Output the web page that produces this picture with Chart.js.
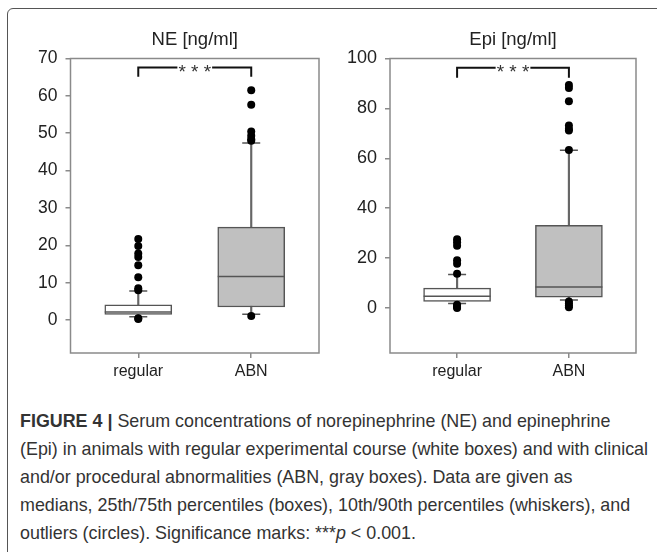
<!DOCTYPE html>
<html>
<head>
<meta charset="utf-8">
<script src="https://cdn.jsdelivr.net/npm/chart.js@4.4.0/dist/chart.umd.min.js"></script>
<style>
    body { margin: 0; background: #fff; }
    #wrap { position: relative; width: 657px; height: 552px; overflow: hidden; }
    #frame {
        position: absolute; left: 7px; top: 8px; width: 720px; height: 620px;
        border: 1.5px solid #555; border-radius: 6px; box-sizing: border-box;
    }
    canvas { position: absolute; top: 0; }
    #neChart { left: 0; }
    #epiChart { left: 320px; }
    #caption {
        position: absolute; left: 20px; top: 407px;
        font-family: "Liberation Sans", Arial, sans-serif;
        font-size: 19px; line-height: 28px; color: #333; white-space: nowrap;
        transform-origin: 0 0;
    }
    #caption div { display: block; }
    #caption span { display: inline-block; }
</style>
</head>
<body>
<div id="wrap">
    <div id="frame"></div>
    <canvas id="neChart" width="330" height="390"></canvas>
    <canvas id="epiChart" width="330" height="390"></canvas>
    <div id="caption">
        <div><b>FIGURE 4 |</b> Serum concentrations of norepinephrine (NE) and epinephrine</div>
        <div><span id="capRef">(Epi) in animals with regular experimental course (white boxes) and with clinical</span></div>
        <div>and/or procedural abnormalities (ABN, gray boxes). Data are given as</div>
        <div>medians, 25th/75th percentiles (boxes), 10th/90th percentiles (whiskers), and</div>
        <div>outliers (circles). Significance marks: ***<i>p</i> &lt; 0.001.</div>
    </div>
</div>
<script>
// groups on the x axis
const groups = ['regular', 'ABN'];
const groupPos = [1, 2];
const boxColors = ['#ffffff', '#c0c0c0'];

// NE [ng/ml]
const neQ1 = [1.5, 3.5];
const neMedian = [2.2, 11.7];
const neQ3 = [4.1, 24.9];
const neP10 = [0.9, 1.6];
const neP90 = [7.8, 47.4];
const neOutRegular = [21.7, 19.8, 17.8, 16.9, 14.7, 11.5, 8.5, 8.0, 0.5, 0.3];
const neOutABN = [61.5, 57.6, 50.5, 49.3, 48.4, 48.0, 1.1];
const neTicks = [0, 10, 20, 30, 40, 50, 60, 70];
const neRange = [-8.8, 70];
const neBracket = [65.1, 67.6];

// Epi [ng/ml]
const epiQ1 = [2.7, 4.4];
const epiMedian = [4.7, 8.4];
const epiQ3 = [8.0, 33.2];
const epiP10 = [1.8, 3.2];
const epiP90 = [13.5, 63.2];
const epiOutRegular = [27.6, 26.4, 25.0, 19.2, 17.8, 13.8, 1.3, 0.8, 0.4, 0.0];
const epiOutABN = [89.4, 88.2, 82.9, 73.2, 71.8, 71.2, 63.3, 2.6, 1.8, 1.0, 0.3];
const epiTicks = [0, 20, 40, 60, 80, 100];
const epiRange = [-18, 100];
const epiBracket = [92.3, 96.3];

const FONT = '"Liberation Sans", Arial, sans-serif';
const TEXT = '#222';
const FRAME = '#8a8a8a';

// caption is a narrow face in the original, squeeze Liberation Sans to the same line width
const capRef = document.getElementById('capRef');
const capScale = 628 / capRef.getBoundingClientRect().width;
document.getElementById('caption').style.transform = `scale(${capScale}, 1)`;

// title, frame round the plot and the *** mark
const panelPlugin = {
    id: 'panel',
    afterDatasetsDraw(chart, args, opts) {
        const { ctx, chartArea: a, scales } = chart;
        ctx.save();
        ctx.strokeStyle = FRAME;
        ctx.lineWidth = 1.5;
        ctx.strokeRect(a.left, a.top, a.right - a.left, a.bottom - a.top);

        // stars sit on the bracket line
        const xMid = (scales.x.getPixelForValue(groupPos[0]) + scales.x.getPixelForValue(groupPos[1])) / 2;
        const yLine = scales.y.getPixelForValue(opts.bracketTop);
        ctx.font = '19px ' + FONT;
        const w = ctx.measureText(opts.stars).width;
        ctx.fillStyle = '#fff';
        ctx.fillRect(xMid - w / 2 - 1, yLine - 3, w + 2, 6);
        ctx.fillStyle = '#333';
        ctx.textAlign = 'center';
        ctx.textBaseline = 'alphabetic';
        ctx.fillText(opts.stars, xMid, yLine + 10.5);

        ctx.font = '18.5px ' + FONT;
        ctx.fillStyle = TEXT;
        ctx.textBaseline = 'middle';
        ctx.fillText(opts.title, (a.left + a.right) / 2, a.top - 18.5);
        ctx.restore();
    }
};

function boxChart(id, d) {
    const boxes = groupPos.map((x, i) => ({ x, y: [d.q1[i], d.q3[i]] }));
    const whiskers = groupPos.map((x, i) => ({ x, y: [d.p10[i], d.p90[i]] }));
    const medians = groupPos.map((x, i) => ({ x, y: d.median[i] }));
    const caps = groupPos.flatMap((x, i) => [{ x, y: d.p10[i] }, { x, y: d.p90[i] }]);
    const outliers = [
        ...d.outRegular.map(y => ({ x: groupPos[0], y })),
        ...d.outABN.map(y => ({ x: groupPos[1], y }))
    ];
    const bracket = [
        { x: groupPos[0], y: d.bracket[0] },
        { x: groupPos[0], y: d.bracket[1] },
        { x: groupPos[1], y: d.bracket[1] },
        { x: groupPos[1], y: d.bracket[0] }
    ];

    new Chart(document.getElementById(id), {
        type: 'bar',
        data: {
            datasets: [
                {
                    type: 'bar', data: whiskers, grouped: false, order: 6,
                    barThickness: 1.5, backgroundColor: '#666', borderWidth: 0
                },
                {
                    type: 'bar', data: boxes, grouped: false, order: 5,
                    barThickness: 67, backgroundColor: boxColors,
                    borderColor: '#555', borderWidth: 1.5, borderSkipped: false
                },
                {
                    type: 'scatter', data: medians, order: 4,
                    pointStyle: 'line', pointRadius: 33.5, borderColor: '#555', borderWidth: 1.5
                },
                {
                    type: 'scatter', data: caps, order: 3,
                    pointStyle: 'line', pointRadius: 9, borderColor: '#555', borderWidth: 1.5
                },
                {
                    type: 'scatter', data: outliers, order: 2,
                    pointStyle: 'circle', pointRadius: 4, backgroundColor: '#000', borderWidth: 0
                },
                {
                    type: 'line', data: bracket, order: 1,
                    borderColor: '#111', borderWidth: 2, pointRadius: 0, tension: 0, fill: false
                }
            ]
        },
        options: {
            responsive: false,
            animation: false,
            layout: { autoPadding: false, padding: { top: 58.5, right: d.rightPad, bottom: 0, left: 0 } },
            plugins: {
                legend: { display: false },
                tooltip: { enabled: false },
                panel: { title: d.title, stars: '* * *', bracketTop: d.bracket[1] }
            },
            scales: {
                x: {
                    type: 'linear',
                    offset: false,
                    min: 0.4,
                    max: 2.6,
                    afterBuildTicks: axis => { axis.ticks = groupPos.map(v => ({ value: v })); },
                    afterFit: axis => {
                        axis.height = 37;
                        axis.paddingLeft = 0;
                        axis.paddingRight = 0;
                    },
                    border: { display: false },
                    grid: { offset: false, drawOnChartArea: false, drawTicks: true, tickLength: 5, color: FRAME, lineWidth: 1.5 },
                    ticks: {
                        padding: 4,
                        color: TEXT,
                        maxRotation: 0,
                        font: { family: FONT, size: 16 },
                        callback: v => groups[groupPos.indexOf(v)]
                    }
                },
                y: {
                    type: 'linear',
                    min: d.range[0],
                    max: d.range[1],
                    afterBuildTicks: axis => { axis.ticks = d.ticks.map(v => ({ value: v })); },
                    afterFit: axis => {
                        axis.width = d.yWidth;
                        axis.paddingTop = 0;
                        axis.paddingBottom = 0;
                    },
                    border: { display: false },
                    grid: { drawOnChartArea: false, drawTicks: true, tickLength: 5, color: FRAME, lineWidth: 1.5 },
                    ticks: {
                        padding: 8,
                        color: TEXT,
                        font: { family: FONT, size: d.tickSize }
                    }
                }
            }
        },
        plugins: [panelPlugin]
    });
}

boxChart('neChart', {
    title: 'NE [ng/ml]',
    q1: neQ1, median: neMedian, q3: neQ3, p10: neP10, p90: neP90,
    outRegular: neOutRegular, outABN: neOutABN,
    ticks: neTicks, range: neRange, bracket: neBracket,
    yWidth: 70.5, rightPad: 11, tickSize: 17.5
});

boxChart('epiChart', {
    title: 'Epi [ng/ml]',
    q1: epiQ1, median: epiMedian, q3: epiQ3, p10: epiP10, p90: epiP90,
    outRegular: epiOutRegular, outABN: epiOutABN,
    ticks: epiTicks, range: epiRange, bracket: epiBracket,
    yWidth: 70, rightPad: 14, tickSize: 18
});
</script>
</body>
</html>
